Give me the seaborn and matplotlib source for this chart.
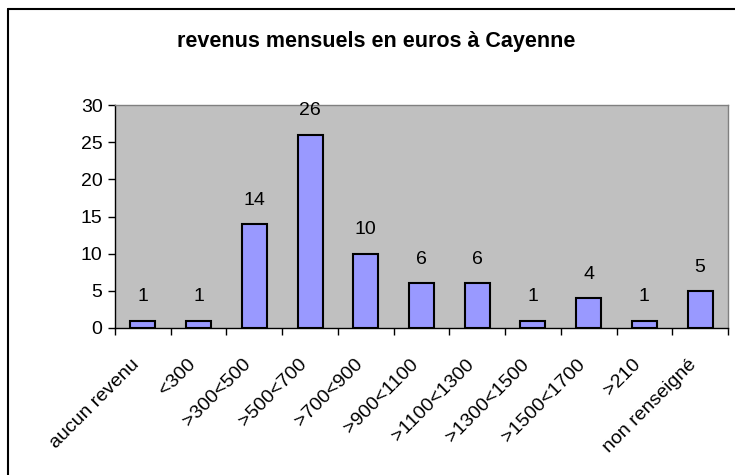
import matplotlib
matplotlib.use('Agg')
import matplotlib.pyplot as plt
from matplotlib.lines import Line2D
from matplotlib.transforms import ScaledTranslation
import numpy as np
import pandas as pd
import seaborn as sns

# ── Data ───────────────────────────────────────────────────────────────────────
categories = ['aucun revenu', '<300', '>300<500', '>500<700', '>700<900',
              '>900<1100', '>1100<1300', '>1300<1500', '>1500<1700',
              '>210', 'non renseigné']
counts = [1, 1, 14, 26, 10, 6, 6, 1, 4, 1, 5]
y_ticks = [0, 5, 10, 15, 20, 25, 30]
title = 'revenus mensuels en euros à Cayenne'

df = pd.DataFrame({'tranche': categories, 'effectif': counts})

# ── Style ──────────────────────────────────────────────────────────────────────
sns.set_style('white')
plt.rcParams['font.family'] = ['Liberation Sans', 'DejaVu Sans']
plt.rcParams['text.color'] = 'black'
plt.rcParams['xtick.color'] = 'black'
plt.rcParams['ytick.color'] = 'black'

fig = plt.figure(figsize=(7.35, 4.75), dpi=100)
ax = fig.add_axes([115 / 735, 1 - 328 / 475, 613 / 735, 223 / 475])
ax.set_facecolor('#C0C0C0')

sns.barplot(data=df, x='tranche', y='effectif', color='#9999FF',
            edgecolor='black', linewidth=1.5, width=0.45, saturation=1, ax=ax)

ax.bar_label(ax.containers[0], padding=11, fontsize=14)

ax.set_ylim(0, 30)
ax.set_xlim(-0.5, len(categories) - 0.5)
ax.set_yticks(y_ticks)
ax.tick_params(axis='y', length=5, width=1, direction='out', labelsize=14,
               left=True, pad=4)
ax.set_xticks(np.arange(len(categories) + 1) - 0.5, minor=True)
ax.tick_params(axis='x', which='minor', length=5, width=1, direction='out',
               bottom=True)
ax.tick_params(axis='x', which='major', length=0, labelsize=14, pad=20)
ax.set_xticks(range(len(categories)))
ax.set_xticklabels(categories, rotation=45, ha='right', va='top',
                   rotation_mode='anchor')
shift = ScaledTranslation(-12 / 100, 0, fig.dpi_scale_trans)
for lab in ax.get_xticklabels():
    lab.set_transform(lab.get_transform() + shift)
ax.set_xlabel('')
ax.set_ylabel('')

for side in ['left', 'bottom']:
    ax.spines[side].set_color('black')
    ax.spines[side].set_linewidth(1)
for side in ['top', 'right']:
    ax.spines[side].set_color('#808080')
    ax.spines[side].set_linewidth(1)

fig.text(376 / 735, 1 - 41 / 475, title, ha='center', va='center',
         fontsize=15.5, fontweight='bold')

# chart-area frame (left and top edges visible)
fig.add_artist(Line2D([8 / 735, 8 / 735], [0, 1 - 9 / 475], color='black',
                      linewidth=1.5, transform=fig.transFigure))
fig.add_artist(Line2D([8 / 735, 1], [1 - 9 / 475, 1 - 9 / 475], color='black',
                      linewidth=1.5, transform=fig.transFigure))

fig.savefig('out.png', dpi=100)
